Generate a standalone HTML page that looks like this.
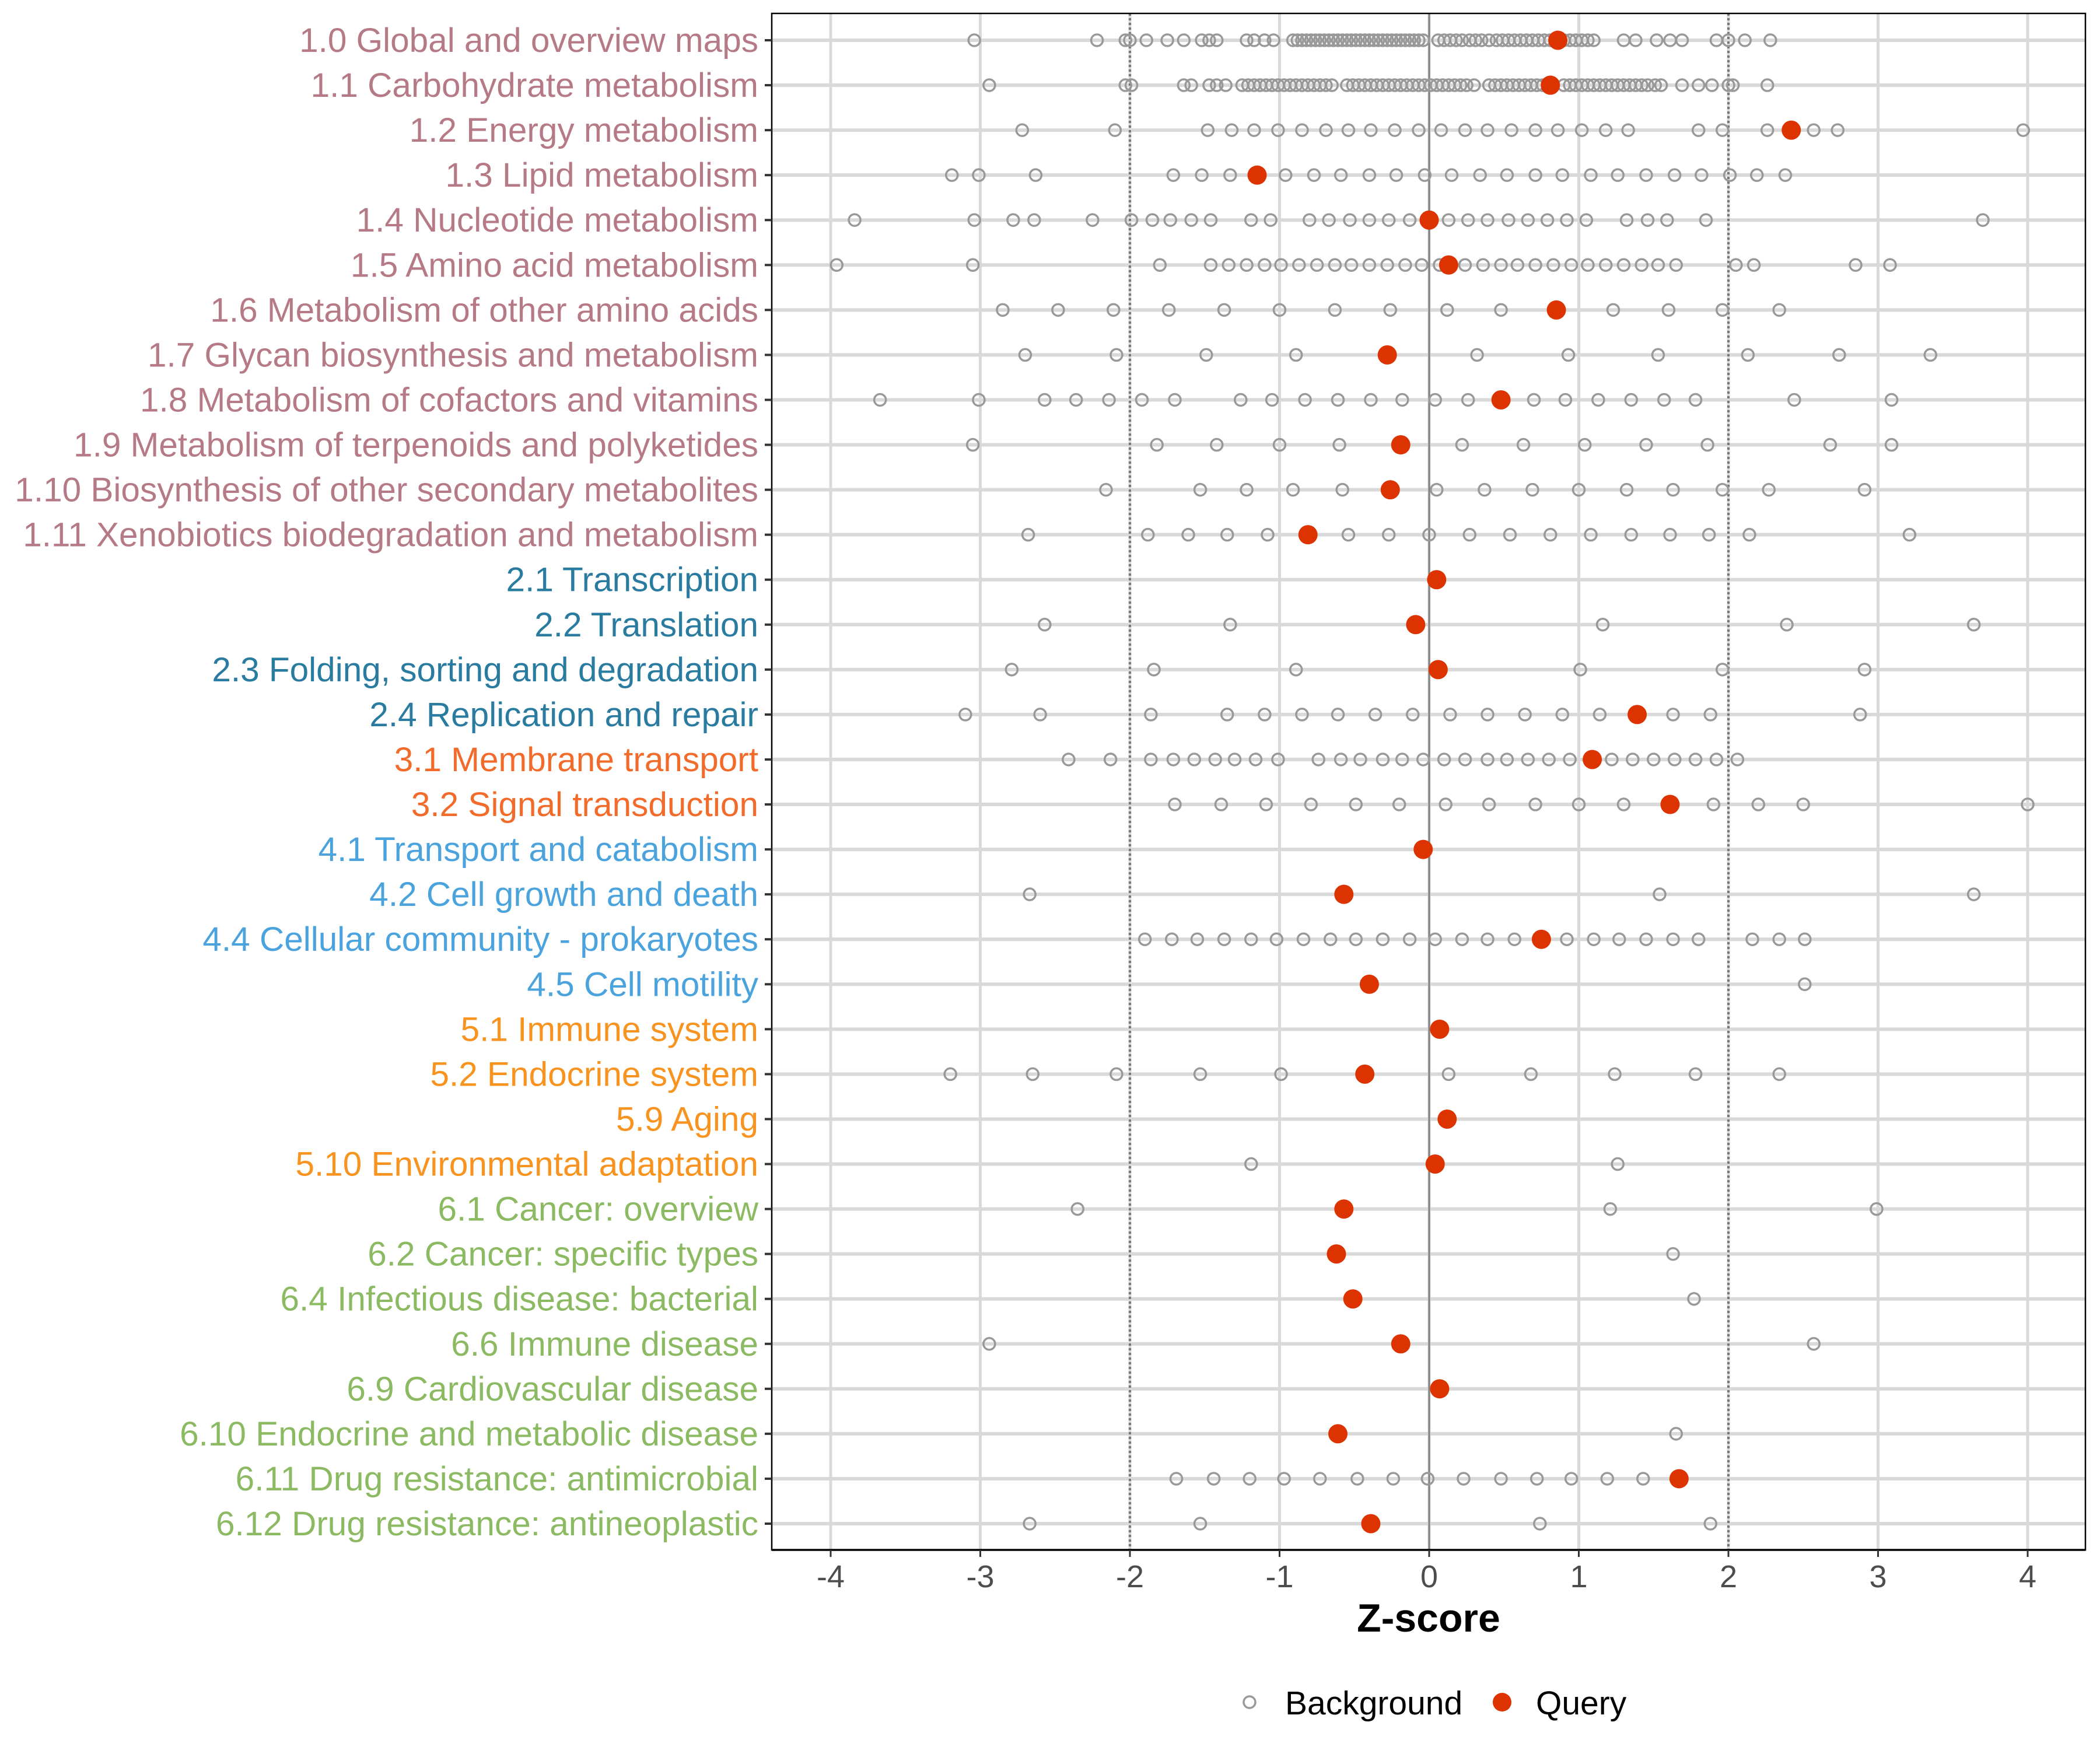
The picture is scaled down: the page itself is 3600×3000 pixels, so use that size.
<!DOCTYPE html>
<html><head><meta charset="utf-8"><style>
html,body{margin:0;padding:0;background:#fff;}
svg{display:block;font-family:"Liberation Sans",Arial,sans-serif;}
</style></head>
<body>
<svg id="chart" width="3600" height="3000" viewBox="0 0 3600 3000" xmlns="http://www.w3.org/2000/svg">
<rect x="0" y="0" width="3600" height="3000" fill="#fff"/>
<g id="grid"></g>
<g id="marks"></g>
<g id="axes"></g>
<text x="2449" y="2797" font-size="68" font-weight="bold" text-anchor="middle" fill="#000">Z-score</text>
<g>
  <circle cx="2142" cy="2918" r="10" fill="none" stroke="#999" stroke-width="3.5"/>
  <text x="2203" y="2939" font-size="57" fill="#000">Background</text>
  <circle cx="2575" cy="2918" r="16" fill="#DD3300"/>
  <text x="2633" y="2939" font-size="57" fill="#000">Query</text>
</g>
</svg>
<script>
const categories = ["1.0 Global and overview maps","1.1 Carbohydrate metabolism","1.2 Energy metabolism","1.3 Lipid metabolism","1.4 Nucleotide metabolism","1.5 Amino acid metabolism","1.6 Metabolism of other amino acids","1.7 Glycan biosynthesis and metabolism","1.8 Metabolism of cofactors and vitamins","1.9 Metabolism of terpenoids and polyketides","1.10 Biosynthesis of other secondary metabolites","1.11 Xenobiotics biodegradation and metabolism","2.1 Transcription","2.2 Translation","2.3 Folding, sorting and degradation","2.4 Replication and repair","3.1 Membrane transport","3.2 Signal transduction","4.1 Transport and catabolism","4.2 Cell growth and death","4.4 Cellular community - prokaryotes","4.5 Cell motility","5.1 Immune system","5.2 Endocrine system","5.9 Aging","5.10 Environmental adaptation","6.1 Cancer: overview","6.2 Cancer: specific types","6.4 Infectious disease: bacterial","6.6 Immune disease","6.9 Cardiovascular disease","6.10 Endocrine and metabolic disease","6.11 Drug resistance: antimicrobial","6.12 Drug resistance: antineoplastic"];
const categoryGroups = [1,1,1,1,1,1,1,1,1,1,1,1,2,2,2,2,3,3,4,4,4,4,5,5,5,5,6,6,6,6,6,6,6,6];
const queryValues = [0.86,0.81,2.42,-1.15,0.0,0.13,0.85,-0.28,0.48,-0.19,-0.26,-0.81,0.05,-0.09,0.06,1.39,1.09,1.61,-0.04,-0.57,0.75,-0.40,0.07,-0.43,0.12,0.04,-0.57,-0.62,-0.51,-0.19,0.07,-0.61,1.67,-0.39];
const backgroundValues = [
 [-3.04,-2.22,-2.03,-2.0,-1.89,-1.75,-1.64,-1.52,-1.47,-1.42,-1.22,-1.17,-1.10,-1.04,-0.91,-0.88,-0.85,-0.82,-0.79,-0.76,-0.73,-0.70,-0.67,-0.64,-0.61,-0.58,-0.55,-0.52,-0.49,-0.46,-0.43,-0.40,-0.37,-0.34,-0.31,-0.28,-0.25,-0.22,-0.19,-0.16,-0.13,-0.10,-0.07,-0.04,0.06,0.10,0.14,0.18,0.22,0.27,0.31,0.35,0.40,0.45,0.49,0.53,0.57,0.61,0.65,0.69,0.73,0.77,0.81,0.90,0.94,0.98,1.02,1.06,1.10,1.30,1.38,1.52,1.61,1.69,1.92,2.0,2.11,2.28],
 [-2.94,-2.03,-1.99,-1.64,-1.59,-1.47,-1.42,-1.36,-1.25,-1.21,-1.17,-1.13,-1.09,-1.05,-1.01,-0.97,-0.93,-0.89,-0.85,-0.81,-0.77,-0.73,-0.69,-0.65,-0.55,-0.51,-0.47,-0.43,-0.39,-0.35,-0.31,-0.27,-0.23,-0.19,-0.15,-0.11,-0.07,-0.03,0.01,0.05,0.09,0.13,0.17,0.21,0.25,0.30,0.40,0.44,0.48,0.52,0.56,0.60,0.64,0.68,0.72,0.76,0.90,0.94,0.98,1.02,1.06,1.10,1.14,1.18,1.22,1.26,1.30,1.34,1.38,1.42,1.46,1.51,1.55,1.69,1.80,1.89,2.0,2.03,2.26],
 [-2.72,-2.10,-1.48,-1.32,-1.17,-1.01,-0.85,-0.69,-0.54,-0.39,-0.23,-0.07,0.08,0.24,0.39,0.55,0.71,0.86,1.02,1.18,1.33,1.80,1.96,2.26,2.57,2.73,3.97],
 [-3.19,-3.01,-2.63,-1.71,-1.52,-1.33,-0.96,-0.77,-0.59,-0.40,-0.22,-0.03,0.15,0.34,0.52,0.71,0.89,1.08,1.26,1.45,1.64,1.82,2.01,2.19,2.38],
 [-3.84,-3.04,-2.78,-2.64,-2.25,-1.99,-1.85,-1.73,-1.59,-1.46,-1.19,-1.06,-0.80,-0.67,-0.53,-0.40,-0.27,-0.13,0.13,0.26,0.39,0.53,0.66,0.79,0.92,1.05,1.32,1.46,1.59,1.85,3.70],
 [-3.96,-3.05,-1.80,-1.46,-1.34,-1.22,-1.10,-0.99,-0.87,-0.75,-0.63,-0.52,-0.40,-0.28,-0.16,-0.05,0.07,0.24,0.36,0.48,0.59,0.71,0.83,0.95,1.06,1.18,1.30,1.42,1.53,1.65,2.05,2.17,2.85,3.08],
 [-2.85,-2.48,-2.11,-1.74,-1.37,-1.00,-0.63,-0.26,0.12,0.48,1.23,1.60,1.96,2.34],
 [-2.70,-2.09,-1.49,-0.89,0.32,0.93,1.53,2.13,2.74,3.35],
 [-3.67,-3.01,-2.57,-2.36,-2.14,-1.92,-1.70,-1.26,-1.05,-0.83,-0.61,-0.39,-0.18,0.04,0.26,0.70,0.91,1.13,1.35,1.57,1.78,2.44,3.09],
 [-3.05,-1.82,-1.42,-1.00,-0.60,0.22,0.63,1.04,1.45,1.86,2.68,3.09],
 [-2.16,-1.53,-1.22,-0.91,-0.58,0.05,0.37,0.69,1.00,1.32,1.63,1.96,2.27,2.91],
 [-2.68,-1.88,-1.61,-1.35,-1.08,-0.54,-0.27,0.0,0.27,0.54,0.81,1.08,1.35,1.61,1.87,2.14,3.21],
 [],
 [-2.57,-1.33,1.16,2.39,3.64],
 [-2.79,-1.84,-0.89,1.01,1.96,2.91],
 [-3.10,-2.60,-1.86,-1.35,-1.10,-0.85,-0.61,-0.36,-0.11,0.14,0.39,0.64,0.89,1.14,1.63,1.88,2.88],
 [-2.41,-2.13,-1.86,-1.71,-1.57,-1.43,-1.30,-1.16,-1.01,-0.74,-0.59,-0.46,-0.31,-0.18,-0.04,0.10,0.24,0.39,0.52,0.66,0.80,0.94,1.22,1.36,1.50,1.64,1.78,1.92,2.06],
 [-1.70,-1.39,-1.09,-0.79,-0.49,-0.20,0.11,0.40,0.71,1.00,1.30,1.90,2.20,2.50,4.0],
 [],
 [-2.67,1.54,3.64],
 [-1.90,-1.72,-1.55,-1.37,-1.19,-1.02,-0.84,-0.66,-0.49,-0.31,-0.13,0.04,0.22,0.39,0.57,0.92,1.10,1.27,1.45,1.63,1.80,2.16,2.34,2.51],
 [2.51],
 [],
 [-3.20,-2.65,-2.09,-1.53,-0.99,0.13,0.68,1.24,1.78,2.34],
 [],
 [-1.19,1.26],
 [-2.35,1.21,2.99],
 [1.63],
 [1.77],
 [-2.94,2.57],
 [],
 [1.65],
 [-1.69,-1.44,-1.20,-0.97,-0.73,-0.48,-0.24,-0.01,0.23,0.48,0.72,0.95,1.19,1.43],
 [-2.67,-1.53,0.74,1.88]
];
const xTicks = [-4,-3,-2,-1,0,1,2,3,4];
const xTickLabels = ["-4","-3","-2","-1","0","1","2","3","4"];
const thresholds = [-2,2];

const NS = "http://www.w3.org/2000/svg";
const P = {left:1323, right:3575, top:23, bottom:2657};
const groupColors = {1:"#B57A86",2:"#2A7BA0",3:"#F26B2A",4:"#4AA3DC",5:"#F7931E",6:"#8CBA63"};
function xScale(v){ return 2450 + v*256.5; }
function yScale(i){ return 69 + i*(2612-69)/(categories.length-1); }
function mk(tag, attrs, parent){
  const e = document.createElementNS(NS, tag);
  for (const k in attrs) e.setAttribute(k, attrs[k]);
  parent.appendChild(e);
  return e;
}
const grid = document.getElementById('grid');
const marks = document.getElementById('marks');
const axes = document.getElementById('axes');

xTicks.forEach((t,i)=>{
  const l = mk('line',{x1:xScale(t),x2:xScale(t),y1:P.top,y2:P.bottom,stroke:'#d9d9d9','stroke-width':5},grid);
  
  
});
categories.forEach((c,i)=>{
  const l = mk('line',{x1:P.left,x2:P.right,y1:yScale(i),y2:yScale(i),stroke:'#d9d9d9','stroke-width':6},grid);
  
  
});
thresholds.forEach(t=>{
  const l = mk('line',{x1:xScale(t),x2:xScale(t),y1:P.top,y2:P.bottom,stroke:'#777','stroke-width':4,'stroke-dasharray':'4 4'},grid);
  
  
});
const zl = mk('line',{x1:xScale(0),x2:xScale(0),y1:P.top,y2:P.bottom,stroke:'#808080','stroke-width':3},grid);



backgroundValues.forEach((row,i)=>{
  row.forEach(v=>{
    const c = mk('circle',{cx:xScale(v),cy:yScale(i),r:10,fill:'none',stroke:'#999','stroke-width':3.5},marks);
    
    
  });
});
queryValues.forEach((v,i)=>{
  const c = mk('circle',{cx:xScale(v),cy:yScale(i),r:16.5,fill:'#DD3300'},marks);
  
  
});

const frame = mk('rect',{x:P.left,y:P.top,width:P.right-P.left,height:P.bottom-P.top,fill:'none',stroke:'#000','stroke-width':2.5},axes);


const bax = mk('line',{x1:P.left,x2:P.right,y1:P.bottom,y2:P.bottom,stroke:'#000','stroke-width':3.5},axes);



xTicks.forEach((t,i)=>{
  const tk = mk('line',{x1:xScale(t),x2:xScale(t),y1:P.bottom,y2:P.bottom+12,stroke:'#333','stroke-width':3},axes);
  
  
  const tx = mk('text',{x:xScale(t),y:P.bottom+64,'font-size':54,'text-anchor':'middle',fill:'#4d4d4d'},axes);
  tx.textContent = xTickLabels[i];
  
  
});
categories.forEach((c,i)=>{
  const tk = mk('line',{x1:P.left-12,x2:P.left,y1:yScale(i),y2:yScale(i),stroke:'#333','stroke-width':4},axes);
  
  
  const tx = mk('text',{x:1300,y:yScale(i)+20,'font-size':58.5,'text-anchor':'end',fill:groupColors[categoryGroups[i]]},axes);
  tx.textContent = c;
  
  
});
</script>
</body></html>
